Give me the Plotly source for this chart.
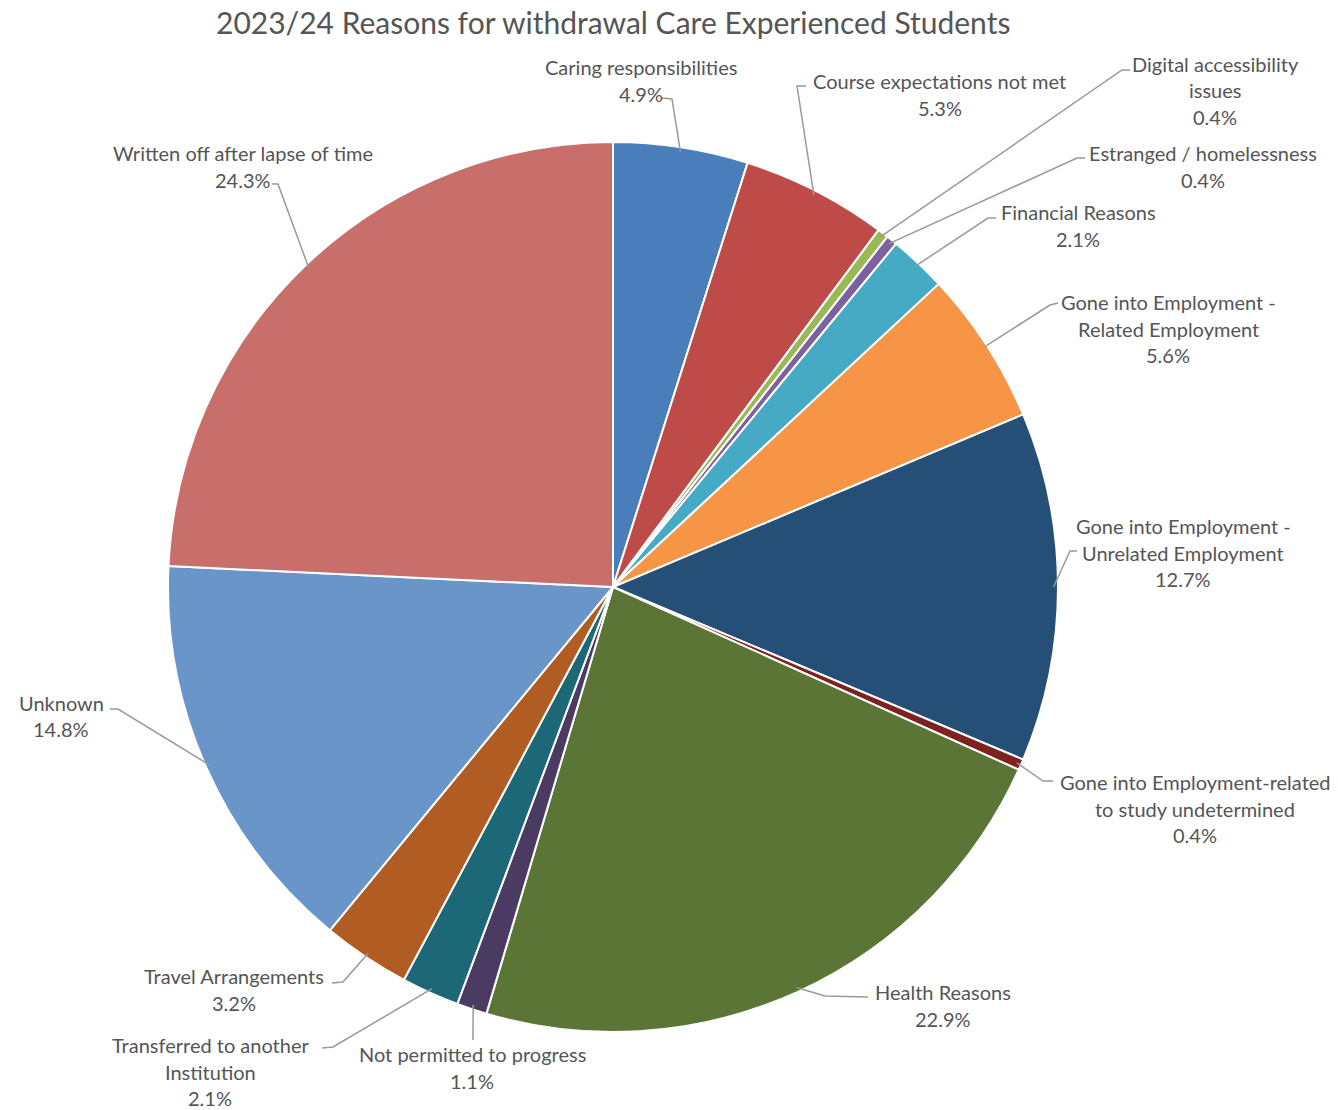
import math
import plotly.graph_objects as go

# ---- data ----
categories = [
    "Caring responsibilities",
    "Course expectations not met",
    "Digital accessibility<br>issues",
    "Estranged / homelessness",
    "Financial Reasons",
    "Gone into Employment -<br>Related Employment",
    "Gone into Employment -<br>Unrelated Employment",
    "Gone into Employment-related<br>to study undetermined",
    "Health Reasons",
    "Not permitted to progress",
    "Transferred to another<br>Institution",
    "Travel Arrangements",
    "Unknown",
    "Written off after lapse of time",
]
percentages = [4.9, 5.3, 0.4, 0.4, 2.1, 5.6, 12.7, 0.4, 22.9, 1.1, 2.1, 3.2, 14.8, 24.3]
colors = ["#4A7EBB", "#BE4B48", "#98B954", "#7D60A0", "#46AAC5", "#F69545", "#254F76",
          "#7E2220", "#5A7535", "#4B3A62", "#1D6877", "#B05C22", "#6A95C8", "#C86E6B"]

# ---- layout (pixels) ----
W, H = 1338, 1110
CX, CY, R = 613, 587, 445
FONT = "Lato"
TEXT_COLOR = "#555555"
LINE_H = 26.5
# label anchor: centre x, first line y ; leader: elbow point, tick end
label_pos = [
    (641, 67), (940, 81), (1215, 64), (1203, 153), (1078, 212), (1168, 302),
    (1183, 526), (1195, 782), (943, 992), (472, 1054), (210, 1045), (234, 976),
    (61, 703), (243, 153),
]
leader_pts = [
    ((672, 99), (662, 98)),
    ((797, 86), (806, 86)),
    ((1122, 70), (1130, 70)),
    ((1077, 158), (1085, 158)),
    ((988, 218), (996, 218)),
    ((1050, 305), (1058, 303)),
    ((1070, 551), (1077, 551)),
    ((1043, 781), (1053, 781)),
    ((825, 996), (868, 997)),
    ((473, 1038), (473, 1040)),
    ((333, 1047), (322, 1048)),
    ((343, 982), (332, 983)),
    ((118, 709), (110, 709)),
    ((278, 184), (272, 184)),
]


def px(x):
    return x / W


def py(y):
    return 1 - y / H


fig = go.Figure(go.Pie(
    labels=[c.replace("<br>", " ") for c in categories],
    values=percentages,
    sort=False,
    direction="clockwise",
    rotation=0,
    marker=dict(colors=colors, line=dict(color="white", width=2)),
    textinfo="none",
    hoverinfo="label+value",
    showlegend=False,
    domain=dict(x=[px(CX - R), px(CX + R)], y=[py(CY + R), py(CY - R)]),
))

total = sum(percentages)
cum = 0.0
shapes = []
annotations = []
for cat, val, (lx, ly), (elbow, tick) in zip(categories, percentages, label_pos, leader_pts):
    mid = (cum + val / 2) / total * 2 * math.pi
    cum += val
    ex = CX + R * 0.99 * math.sin(mid)
    ey = CY - R * 0.99 * math.cos(mid)
    path = "M {:.5f} {:.5f} L {:.5f} {:.5f} L {:.5f} {:.5f}".format(
        px(ex), py(ey), px(elbow[0]), py(elbow[1]), px(tick[0]), py(tick[1]))
    shapes.append(dict(type="path", path=path, xref="paper", yref="paper",
                       line=dict(color="#999999", width=1.5)))
    lines = cat.split("<br>") + ["{:.1f}%".format(val)]
    for i, t in enumerate(lines):
        annotations.append(dict(
            text=t, x=px(lx), y=py(ly + i * LINE_H), xref="paper", yref="paper",
            xanchor="center", yanchor="middle", showarrow=False,
            font=dict(family=FONT, size=20, color=TEXT_COLOR)))

annotations.append(dict(
    text="2023/24 Reasons for withdrawal Care Experienced Students",
    x=px(CX), y=py(22), xref="paper", yref="paper", xanchor="center", yanchor="middle",
    showarrow=False, font=dict(family=FONT, size=30, color=TEXT_COLOR)))

fig.update_layout(
    width=W, height=H, autosize=False,
    margin=dict(l=0, r=0, t=0, b=0),
    paper_bgcolor="white", plot_bgcolor="white",
    shapes=shapes, annotations=annotations,
)
fig.write_html("out.html")
